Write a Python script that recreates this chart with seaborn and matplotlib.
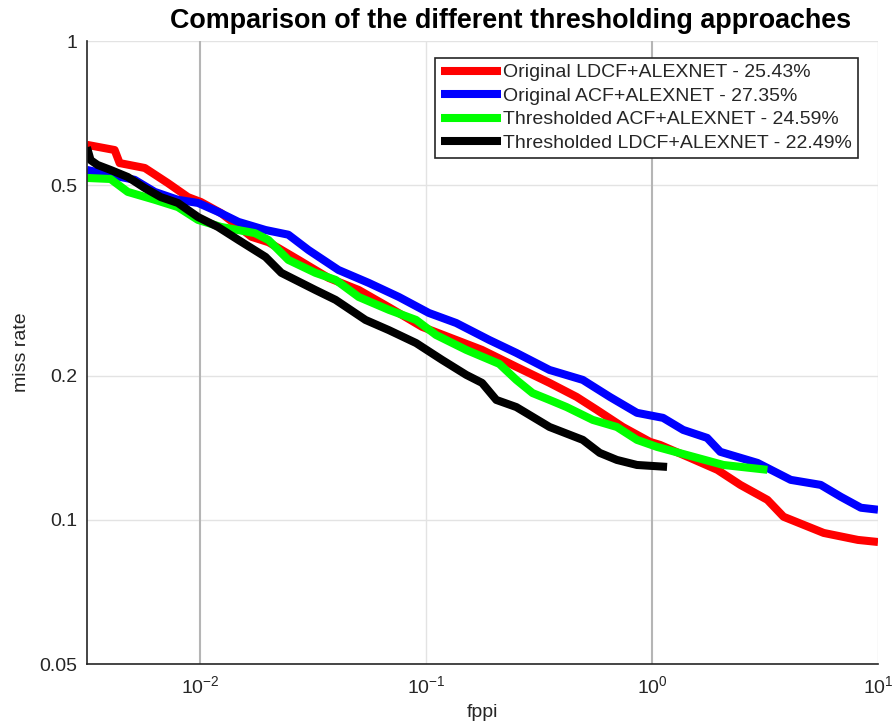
import numpy as np
import pandas as pd
import matplotlib
matplotlib.use("Agg")
import matplotlib.pyplot as plt
import seaborn as sns

# ---- data ----
red_x = [0.00316, 0.00419, 0.00441, 0.00570, 0.00721, 0.00885, 0.0101, 0.0124, 0.0169, 0.0201,
         0.0273, 0.0371, 0.0504, 0.0685, 0.0960, 0.136, 0.177, 0.251, 0.352, 0.464, 0.570,
         0.743, 0.980, 1.085, 1.475, 1.945, 2.46, 3.24, 3.82, 5.75, 8.15, 10.0]
red_y = [0.607, 0.592, 0.556, 0.543, 0.505, 0.472, 0.461, 0.437, 0.390, 0.380,
         0.349, 0.320, 0.302, 0.278, 0.253, 0.2375, 0.2264, 0.2087, 0.1932, 0.1806, 0.1697,
         0.1563, 0.1455, 0.1434, 0.1347, 0.1272, 0.1183, 0.1101, 0.1015, 0.0939, 0.0908, 0.0899]

blue_x = [0.00316, 0.00402, 0.00514, 0.00631, 0.00798, 0.0098, 0.0120, 0.0148, 0.0195, 0.0246,
          0.0302, 0.0410, 0.0558, 0.0759, 0.103, 0.136, 0.1905, 0.251, 0.352, 0.494, 0.651,
          0.858, 1.119, 1.374, 1.754, 2.005, 2.93, 4.11, 5.58, 6.85, 8.4, 10.0]
blue_y = [0.538, 0.525, 0.513, 0.484, 0.466, 0.459, 0.440, 0.419, 0.403, 0.394,
          0.366, 0.3325, 0.3125, 0.292, 0.2704, 0.2577, 0.2375, 0.2232, 0.2056, 0.196, 0.1806,
          0.1673, 0.1633, 0.1541, 0.1483, 0.1387, 0.1315, 0.1212, 0.1183, 0.1117, 0.106, 0.105]

green_x = [0.00316, 0.00402, 0.00479, 0.00631, 0.00798, 0.0098, 0.0124, 0.0175, 0.0201, 0.0246,
           0.0324, 0.0398, 0.0504, 0.0685, 0.0904, 0.1107, 0.1507, 0.211, 0.251, 0.296, 0.352,
           0.419, 0.547, 0.699, 0.858, 1.053, 1.475, 2.07, 3.24]
green_y = [0.5176, 0.515, 0.484, 0.466, 0.450, 0.423, 0.409, 0.397, 0.384, 0.349,
           0.328, 0.317, 0.292, 0.2745, 0.2615, 0.2433, 0.2264, 0.2117, 0.196, 0.184, 0.178,
           0.172, 0.1617, 0.1563, 0.1469, 0.142, 0.136, 0.1302, 0.1272]

black_x = [0.00316, 0.00328, 0.00352, 0.00402, 0.00479, 0.0057, 0.00671, 0.00798, 0.0098, 0.012,
           0.0148, 0.0195, 0.0229, 0.0324, 0.0398, 0.054, 0.0685, 0.0904, 0.1178, 0.1507,
           0.177, 0.2047, 0.251, 0.352, 0.494, 0.587, 0.699, 0.858, 1.166]
black_y = [0.600, 0.564, 0.551, 0.538, 0.520, 0.493, 0.472, 0.459, 0.429, 0.409,
           0.384, 0.354, 0.328, 0.302, 0.288, 0.2615, 0.249, 0.234, 0.2158, 0.2008,
           0.1932, 0.178, 0.172, 0.1563, 0.1469, 0.138, 0.1334, 0.1302, 0.129]

labels = ["Original LDCF+ALEXNET - 25.43%",
          "Original ACF+ALEXNET - 27.35%",
          "Thresholded ACF+ALEXNET - 24.59%",
          "Thresholded LDCF+ALEXNET - 22.49%"]
colors = ["#ff0000", "#0000ff", "#00ff00", "#000000"]

y_ticks = [0.05, 0.1, 0.2, 0.5, 1]
y_ticklabels = ["0.05", "0.1", "0.2", "0.5", "1"]
x_ticks = [0.01, 0.1, 1, 10]
x_ticklabels = [r"$\mathregular{10^{-2}}$", r"$\mathregular{10^{-1}}$",
                r"$\mathregular{10^{0}}$", r"$\mathregular{10^{1}}$"]
title = "Comparison of the different thresholding approaches"

frames = []
for lab, xs, ys in zip(labels, [red_x, blue_x, green_x, black_x], [red_y, blue_y, green_y, black_y]):
    frames.append(pd.DataFrame({"fppi": xs, "miss": ys, "method": lab}))
df = pd.concat(frames, ignore_index=True)

sns.set_theme(style="white")
plt.rcParams["font.family"] = ["Liberation Sans", "DejaVu Sans"]
plt.rcParams["mathtext.fontset"] = "custom"
plt.rcParams["mathtext.rm"] = "Liberation Sans"
plt.rcParams["mathtext.it"] = "Liberation Sans:italic"

W, H = 895, 727
fig = plt.figure(figsize=(W / 100, H / 100), dpi=100)
ax = fig.add_axes([87 / W, 1 - 664 / H, (878 - 87) / W, (664 - 41) / H])

ax.set_xscale("log")
ax.set_yscale("log")

sns.lineplot(data=df, x="fppi", y="miss", hue="method", hue_order=labels,
             palette=colors, sort=False, estimator=None, linewidth=5.8, ax=ax,
             legend=True)
for ln in ax.get_lines():
    ln.set_solid_capstyle("butt")

ax.set_xlim(10 ** -2.5, 10)
ax.set_ylim(0.05, 1)

# grid
for yv in y_ticks:
    ax.axhline(yv, color="#e3e3e3", linewidth=1.0, zorder=0)
for xv, c in zip(x_ticks, ["#b5b5b5", "#e3e3e3", "#b5b5b5", "#e3e3e3"]):
    ax.axvline(xv, color=c, linewidth=1.5 if c == "#b5b5b5" else 1.0, zorder=0)

ax.set_yticks(y_ticks)
ax.set_yticklabels(y_ticklabels)
ax.set_xticks(x_ticks)
ax.set_xticklabels(x_ticklabels)
ax.minorticks_off()
ax.tick_params(axis="both", which="major", direction="in", length=5, width=1,
               color="#262626", labelsize=14, labelcolor="#262626", pad=7)
ax.tick_params(axis="x", pad=8)

for s in ["top", "right"]:
    ax.spines[s].set_visible(False)
for s in ["left", "bottom"]:
    ax.spines[s].set_color("#262626")
    ax.spines[s].set_linewidth(1.2)

ax.set_xlabel("fppi", fontsize=14, color="#262626", labelpad=5)
ax.set_ylabel("miss rate", fontsize=14, color="#262626", labelpad=7)
ax.set_title("")

# title: fit to reference width (~683 px), centred at x=511 px
t = fig.text(511 / W, 1 - 28 / H, title, ha="center", va="baseline",
             fontsize=18, fontweight="bold", color="black")
fig.canvas.draw()
tw = t.get_window_extent().width
t.set_fontsize(18 * 683 / tw)

leg = ax.legend(loc="upper right", bbox_to_anchor=((858 - 87) / 791, (664 - 58) / 623),
                fontsize=14, frameon=True, fancybox=False, framealpha=1,
                edgecolor="#262626", handlelength=3.1, handletextpad=0.1,
                borderpad=0.3, labelspacing=0.3, borderaxespad=0)
leg.get_frame().set_linewidth(1.2)
for line in leg.get_lines():
    line.set_linewidth(5.8)
    line.set_solid_capstyle("butt")

fig.savefig("out.png", dpi=100)
